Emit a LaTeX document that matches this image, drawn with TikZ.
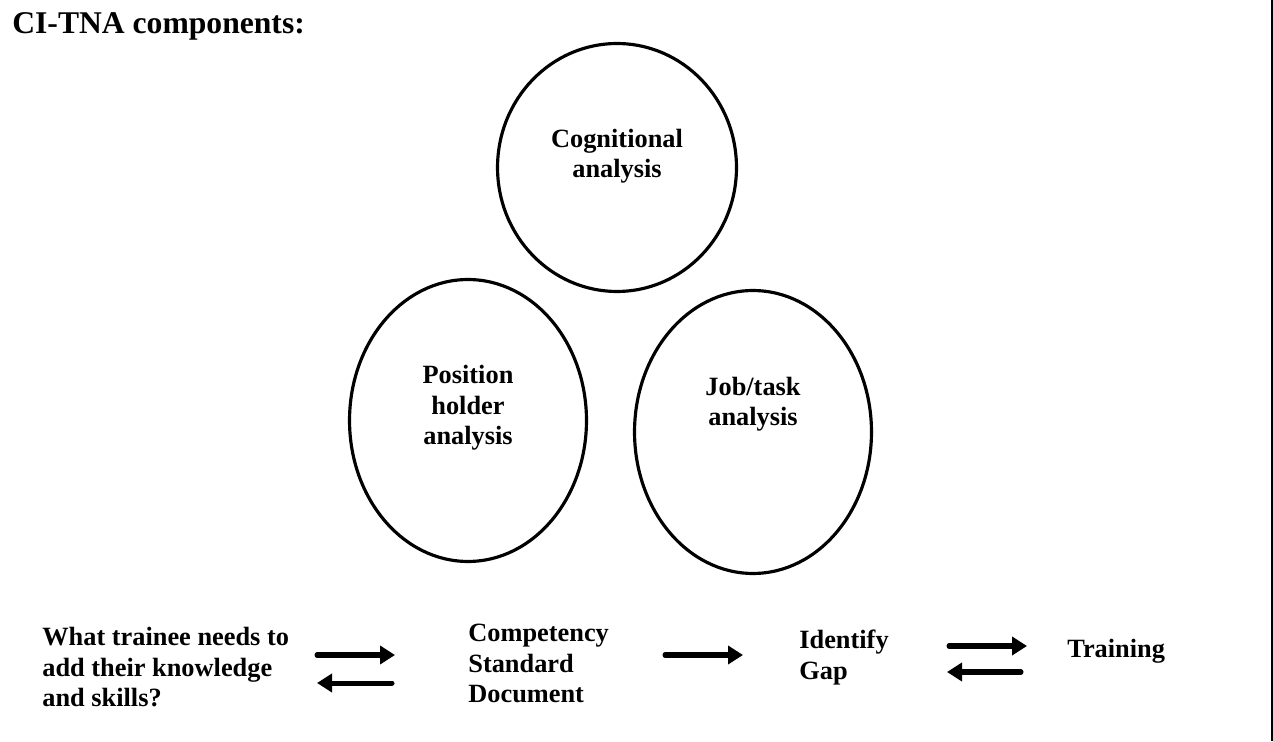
\documentclass[tikz,border=0pt]{standalone}
\usepackage{fontspec}
\setmainfont{Liberation Serif}
\usetikzlibrary{arrows.meta, shapes.geometric, positioning}

\begin{document}
\begin{tikzpicture}[
	x = 0.02cm, y = -0.02cm,
	> = {Triangle[length=0.3cm,width=0.36cm]},
	oval/.style = {ellipse, draw, line width=1.8pt, inner sep=0pt},
	lbl/.style = {font=\bfseries\fontsize{15}{17.4}\selectfont, inner sep=0pt},
	flow/.style = {->, line width=2.85pt, line cap=round}
	]
	\useasboundingbox (0,0) rectangle (1273,742);
	\node[font=\bfseries\fontsize{18}{21}\selectfont, inner sep=0pt, anchor=north west] (title) at (12,12.6) {CI-TNA components:};
	% the three analyses
	\node[oval, minimum width=4.78cm, minimum height=4.96cm] (cog) at (617,167.5) {};
	\node[oval, minimum width=4.74cm, minimum height=5.64cm] (pos) at (468,420.5) {};
	\node[oval, minimum width=4.74cm, minimum height=5.66cm] (job) at (753,432) {};
	\node[lbl, align=center] (cogtxt) at (617,156) {Cognitional\\analysis};
	\node[lbl, align=center] (postxt) at (468,408) {Position\\holder\\analysis};
	\node[lbl, align=center] (jobtxt) at (753,404) {Job/task\\analysis};
	% bottom row
	\node[lbl, align=left, anchor=north west] (need) at (42,627) {What trainee needs to\\add their knowledge\\and skills?};
	\node[lbl, align=left, anchor=north west] (csd) at (468,624) {Competency\\Standard\\Document};
	\node[lbl, align=left, anchor=north west] (gap) at (799,630) {Identify\\Gap};
	\node[lbl, anchor=north west] (train) at (1067,639) {Training};
	\coordinate (ns) at (317,655);
	\coordinate (ne) at (395,655);
	\coordinate (cs) at (392,683);
	\coordinate (ce) at (317,683);
	\coordinate (gs) at (665,655);
	\coordinate (ge) at (743,655);
	\coordinate (ts) at (949,646);
	\coordinate (te) at (1027,646);
	\coordinate (bs) at (1021,672);
	\coordinate (be) at (947,672);
	\draw[flow] (ns) -- (ne);
	\draw[flow] (cs) -- (ce);
	\draw[flow] (gs) -- (ge);
	\draw[flow] (ts) -- (te);
	\draw[flow] (bs) -- (be);
	% right edge of the frame
	\coordinate (edgetop) at (1272,0);
	\coordinate (edgebot) at (1272,741);
	\draw[line width=1.1pt] (edgetop) -- (edgebot);
\end{tikzpicture}
\end{document}
